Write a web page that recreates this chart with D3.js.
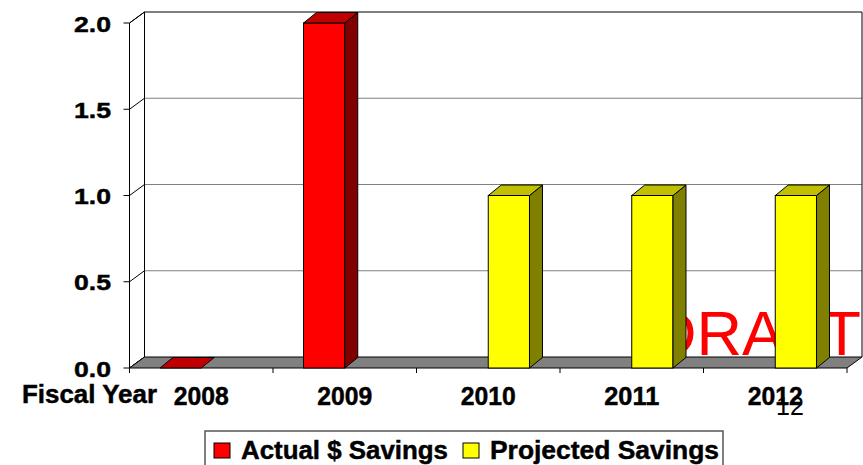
<!DOCTYPE html>
<html><head><meta charset="utf-8">
<script src="https://cdn.jsdelivr.net/npm/d3@7"></script>
<style>body{margin:0;background:#fff}svg{display:block}text{font-family:"Liberation Sans",Arial,sans-serif}</style>
</head><body>
<script>
const categories = ["2008","2009","2010","2011","2012"];
const seriesNames = ["Actual $ Savings","Projected Savings"];
const actualValues = [0, 2.0, null, null, null];
const projectedValues = [null, null, 1.0, 1.0, 1.0];
const yTicks = [0, 0.5, 1.0, 1.5, 2.0];
const yTickLabels = ["0.0","0.5","1.0","1.5","2.0"];
const xAxisTitle = "Fiscal Year";
const watermark = "DRAFT";
const pageNumber = "12";

const W = 863, H = 465;
const svg = d3.select("body").append("svg").attr("width", W).attr("height", H);

const x = d3.scaleBand().domain(categories).range([129.5, 847]).paddingInner(0).paddingOuter(0);
const xs = d3.scaleBand().domain(seriesNames).range([0, x.bandwidth()]).paddingInner(0).paddingOuter(0.74);
const y = d3.scaleLinear().domain([0, 2]).range([368, 23]);
const DX = 15, DY = -11;      // wall depth
const BDX = 13, BDY = -10.5;  // bar depth

const colors = {
  "Actual $ Savings": {front:"#FF0000", side:"#800000", top:"#C00000"},
  "Projected Savings": {front:"#FFFF00", side:"#808000", top:"#C0C000"}
};

const x0 = x.range()[0], x1 = x.range()[1];
const pts = a => a.map(p => p.join(",")).join(" ");
const bold = sel => sel.attr("font-weight","bold").attr("stroke","#000").attr("stroke-width",0.45);

// left wall + back wall
svg.append("polygon").attr("points", pts([[x0,y(0)],[x0,y(2)],[x0+DX,y(2)+DY],[x0+DX,y(0)+DY]]))
  .attr("fill","#fff").attr("stroke","#000").attr("stroke-width",1);
svg.append("rect").attr("x", x0+DX).attr("y", y(2)+DY).attr("width", x1-x0).attr("height", y(0)-y(2))
  .attr("fill","#fff");
yTicks.filter(t => t>0 && t<2).forEach(t => {
  svg.append("line").attr("x1", x0+DX).attr("x2", x1+DX).attr("y1", y(t)+DY).attr("y2", y(t)+DY)
    .attr("stroke","#808080").attr("stroke-width",1.2);
});
yTicks.forEach(t => {
  svg.append("line").attr("x1", x0).attr("y1", y(t)).attr("x2", x0+DX).attr("y2", y(t)+DY)
    .attr("stroke","#000").attr("stroke-width",1);
});
svg.append("line").attr("x1", x0+DX).attr("x2", x1+DX).attr("y1", y(2)+DY).attr("y2", y(2)+DY).attr("stroke","#000").attr("stroke-width",1.2);
svg.append("line").attr("x1", x0+DX).attr("x2", x0+DX).attr("y1", y(2)+DY).attr("y2", y(0)+DY).attr("stroke","#000").attr("stroke-width",1);
svg.append("line").attr("x1", x1+DX).attr("x2", x1+DX).attr("y1", y(2)+DY).attr("y2", y(0)+DY).attr("stroke","#000").attr("stroke-width",1);

// floor
svg.append("polygon").attr("points", pts([[x0,y(0)],[x1,y(0)],[x1+DX,y(0)+DY],[x0+DX,y(0)+DY]]))
  .attr("fill","#808080").attr("stroke","#000").attr("stroke-width",1);

// watermark (behind bars)
svg.append("text").attr("x", 651).attr("y", 355).attr("font-size", 63).attr("fill", "#FF0000").text(watermark);

// y axis
yTicks.forEach((t,i) => {
  svg.append("line").attr("x1", x0-6).attr("x2", x0).attr("y1", y(t)).attr("y2", y(t)).attr("stroke","#000");
  svg.append("text").attr("x", 111).attr("y", y(t)+8.5).attr("text-anchor","end")
    .attr("font-size", 22).attr("textLength", 37).attr("lengthAdjust","spacingAndGlyphs")
    .call(bold).text(yTickLabels[i]);
});
const bounds = categories.map(c => x(c)).concat([x1]);
bounds.forEach(b => svg.append("line").attr("x1", b).attr("x2", b).attr("y1", y(0)).attr("y2", y(0)+5).attr("stroke","#000"));

// bars
const data = [];
categories.forEach((c,i) => {
  if (actualValues[i] != null) data.push({c, s: seriesNames[0], v: actualValues[i]});
  if (projectedValues[i] != null) data.push({c, s: seriesNames[1], v: projectedValues[i]});
});
const g = svg.append("g");
data.forEach(d => {
  const bx = x(d.c) + xs(d.s), bw = xs.bandwidth(), yt = y(d.v), yb = y(0);
  const col = colors[d.s];
  if (d.v > 0) {
    g.append("rect").attr("x", bx).attr("y", yt).attr("width", bw).attr("height", yb-yt)
      .attr("fill", col.front).attr("stroke","#000").attr("stroke-width",1);
    g.append("polygon").attr("points", pts([[bx+bw,yb],[bx+bw,yt],[bx+bw+BDX,yt+BDY],[bx+bw+BDX,yb+BDY]]))
      .attr("fill", col.side).attr("stroke","#000").attr("stroke-width",1);
  }
  g.append("polygon").attr("points", pts([[bx,yt],[bx+bw,yt],[bx+bw+BDX,yt+BDY],[bx+BDX,yt+BDY]]))
    .attr("fill", col.top).attr("stroke","#000").attr("stroke-width",1);
});

// x labels
categories.forEach(c => {
  svg.append("text").attr("x", x(c)+x.bandwidth()/2).attr("y", 405).attr("text-anchor","middle")
    .attr("font-size", 25).attr("textLength", 55).attr("lengthAdjust","spacingAndGlyphs")
    .call(bold).text(c);
});
svg.append("text").attr("x", 22).attr("y", 403).attr("font-size", 25.5)
  .attr("textLength", 135).attr("lengthAdjust","spacingAndGlyphs").call(bold).text(xAxisTitle);
svg.append("text").attr("x", 776).attr("y", 415).attr("font-size", 25).text(pageNumber);

// legend
const lg = svg.append("g");
lg.append("rect").attr("x", 205).attr("y", 431).attr("width", 518).attr("height", 45)
  .attr("fill","#fff").attr("stroke","#555").attr("stroke-width",1.5);
const legX = [214, 463];
const legW = [207, 229];
seriesNames.forEach((s,i) => {
  lg.append("rect").attr("x", legX[i]).attr("y", 443).attr("width", 16).attr("height", 15)
    .attr("fill", colors[s].front).attr("stroke","#000").attr("stroke-width",1);
  lg.append("text").attr("x", legX[i]+27).attr("y", 458.5).attr("font-size", 25.5)
    .attr("textLength", legW[i]).attr("lengthAdjust","spacingAndGlyphs").call(bold).text(s);
});
</script>
</body></html>
